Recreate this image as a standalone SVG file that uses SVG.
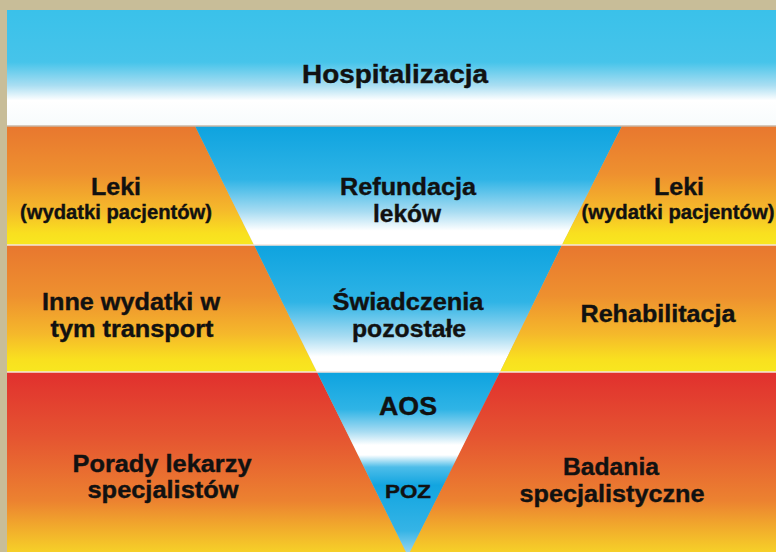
<svg xmlns="http://www.w3.org/2000/svg" width="776" height="552" viewBox="0 0 776 552">
  <defs>
    <linearGradient id="gTop" x1="0" y1="0" x2="0" y2="1">
      <stop offset="0" stop-color="#3ac1ea"/>
      <stop offset="0.45" stop-color="#46c4ea"/>
      <stop offset="0.65" stop-color="#a9def2"/>
      <stop offset="0.78" stop-color="#ffffff"/>
      <stop offset="1" stop-color="#f7fbfc"/>
    </linearGradient>
    <linearGradient id="gOrange" x1="0" y1="0" x2="0" y2="1">
      <stop offset="0" stop-color="#e8772f"/>
      <stop offset="0.4" stop-color="#ee902f"/>
      <stop offset="0.7" stop-color="#f5b82b"/>
      <stop offset="0.9" stop-color="#f9e01f"/>
      <stop offset="1" stop-color="#f8e71f"/>
    </linearGradient>
    <linearGradient id="gRed" x1="0" y1="0" x2="0" y2="1">
      <stop offset="0" stop-color="#e1302e"/>
      <stop offset="0.35" stop-color="#e55431"/>
      <stop offset="0.7" stop-color="#ec8230"/>
      <stop offset="0.92" stop-color="#f4c02a"/>
      <stop offset="1" stop-color="#f7d627"/>
    </linearGradient>
    <linearGradient id="gBlue" x1="0" y1="0" x2="0" y2="1">
      <stop offset="0" stop-color="#0ea3df"/>
      <stop offset="0.45" stop-color="#2fb4e6"/>
      <stop offset="0.72" stop-color="#a8dcf2"/>
      <stop offset="0.88" stop-color="#ffffff"/>
      <stop offset="1" stop-color="#ffffff"/>
    </linearGradient>
    <linearGradient id="gPoz" x1="0" y1="0" x2="0" y2="1">
      <stop offset="0" stop-color="#ffffff"/>
      <stop offset="0.12" stop-color="#4dbde9"/>
      <stop offset="0.3" stop-color="#12a5e0"/>
      <stop offset="0.75" stop-color="#35b4e6"/>
      <stop offset="1" stop-color="#a4d9f0"/>
    </linearGradient>
    <style>
      .t { font-family: "Liberation Sans", Arial, sans-serif; font-weight: bold; fill: #111111; stroke: #111111; stroke-width: 0.4; text-anchor: middle; }
      .sep { stroke: #f4e4dc; stroke-width: 1.5; }
    </style>
  </defs>

  <rect x="0" y="0" width="776" height="552" fill="#c8bd98"/>

  <g id="hospitalizacja">
    <rect x="7" y="10" width="769" height="116" fill="url(#gTop)"/>
    <text class="t" x="395" y="83" font-size="25" textLength="186" lengthAdjust="spacingAndGlyphs">Hospitalizacja</text>
  </g>

  <g id="leki-left">
    <polygon points="7,126 195,126 254,245 7,245" fill="url(#gOrange)"/>
    <text class="t" x="116" y="195" font-size="24" textLength="50" lengthAdjust="spacingAndGlyphs">Leki</text>
    <text class="t" x="116" y="219" font-size="20" textLength="192" lengthAdjust="spacingAndGlyphs">(wydatki pacjentów)</text>
  </g>

  <g id="refundacja">
    <polygon points="195,126 622,126 562,245 254,245" fill="url(#gBlue)"/>
    <text class="t" x="408" y="195" font-size="24" textLength="136" lengthAdjust="spacingAndGlyphs">Refundacja</text>
    <text class="t" x="407" y="222" font-size="24" textLength="68" lengthAdjust="spacingAndGlyphs">leków</text>
  </g>

  <g id="leki-right">
    <polygon points="622,126 776,126 776,245 562,245" fill="url(#gOrange)"/>
    <text class="t" x="679" y="195" font-size="24" textLength="50" lengthAdjust="spacingAndGlyphs">Leki</text>
    <text class="t" x="678" y="219" font-size="20" textLength="193" lengthAdjust="spacingAndGlyphs">(wydatki pacjentów)</text>
  </g>

  <g id="inne-wydatki">
    <polygon points="7,245 254,245 317,372 7,372" fill="url(#gOrange)"/>
    <text class="t" x="131" y="310" font-size="24" textLength="178" lengthAdjust="spacingAndGlyphs">Inne wydatki w</text>
    <text class="t" x="132" y="337" font-size="24" textLength="163" lengthAdjust="spacingAndGlyphs">tym transport</text>
  </g>

  <g id="swiadczenia">
    <polygon points="254,245 562,245 500,372 317,372" fill="url(#gBlue)"/>
    <text class="t" x="408" y="310" font-size="24" textLength="151" lengthAdjust="spacingAndGlyphs">Świadczenia</text>
    <text class="t" x="409" y="337" font-size="24" textLength="114" lengthAdjust="spacingAndGlyphs">pozostałe</text>
  </g>

  <g id="rehabilitacja">
    <polygon points="562,245 776,245 776,372 500,372" fill="url(#gOrange)"/>
    <text class="t" x="658" y="322" font-size="24" textLength="155" lengthAdjust="spacingAndGlyphs">Rehabilitacja</text>
  </g>

  <g id="porady">
    <polygon points="7,372 317,372 408,556 7,556" fill="url(#gRed)"/>
    <text class="t" x="162" y="472" font-size="24" textLength="179" lengthAdjust="spacingAndGlyphs">Porady lekarzy</text>
    <text class="t" x="163" y="498" font-size="24" textLength="151" lengthAdjust="spacingAndGlyphs">specjalistów</text>
  </g>

  <g id="aos">
    <polygon points="317,372 500,372 459,455 358,455" fill="url(#gBlue)"/>
    <text class="t" x="408" y="415" font-size="25" textLength="58" lengthAdjust="spacingAndGlyphs">AOS</text>
  </g>

  <g id="poz">
    <polygon points="358,455 459,455 408,556" fill="url(#gPoz)"/>
    <text class="t" x="408" y="498" font-size="19" textLength="46" lengthAdjust="spacingAndGlyphs">POZ</text>
  </g>

  <g id="badania">
    <polygon points="500,372 776,372 776,556 408,556" fill="url(#gRed)"/>
    <text class="t" x="611" y="475" font-size="24" textLength="96" lengthAdjust="spacingAndGlyphs">Badania</text>
    <text class="t" x="612" y="502" font-size="24" textLength="185" lengthAdjust="spacingAndGlyphs">specjalistyczne</text>
  </g>

  <g id="separators">
    <line x1="7" y1="126" x2="776" y2="126" stroke="#c9b8a8" stroke-width="1.5"/>
    <line class="sep" x1="7" y1="245" x2="776" y2="245"/>
    <line class="sep" x1="7" y1="372" x2="776" y2="372"/>
  </g>
</svg>
